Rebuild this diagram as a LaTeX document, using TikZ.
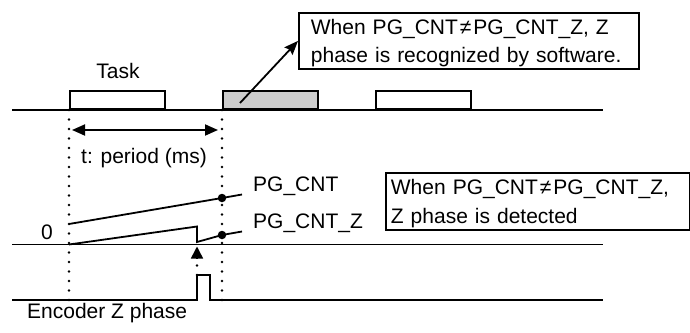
\documentclass[tikz,border=0pt]{standalone}
\usepackage{fontspec}
\setmainfont{Liberation Sans}
\usetikzlibrary{arrows.meta}
\begin{document}
\begin{tikzpicture}[x=1pt,y=-1pt,
  every node/.style={font=\fontsize{21}{28.5}\selectfont, inner sep=0pt},
  sig/.style={line width=1.8pt},
  dotline/.style={line width=2.8pt, line cap=round, dash pattern=on 0pt off 9.5pt},
  taskbox/.style={draw, line width=1.8pt, minimum width=95pt, minimum height=18pt, anchor=south west},
  callout/.style={draw, line width=1.8pt, anchor=north west, align=left, inner ysep=0pt},
  dbl/.style={line width=1.8pt, {Triangle[length=13pt,width=11pt]}-{Triangle[length=13pt,width=11pt]}},
  pointer/.style={line width=1.8pt, -{Stealth[length=14pt,width=11pt,inset=2pt]}},
  dotc/.style={circle, fill=black, minimum size=8.5pt},
]
\useasboundingbox (0,0) rectangle (690,332);

% Task row
\node[taskbox, fill=white] (t1) at (69,110) {};
\node[taskbox, fill=gray!40] (t2) at (222,110) {};
\node[taskbox, fill=white] (t3) at (375,110) {};
\coordinate (r1s) at (12,110);
\coordinate (r1e) at (603,110);
\draw[sig] (r1s) -- (r1e);
\node (task) at (118,71) {Task};

% dotted period markers
\coordinate (b1) at (69,300);
\coordinate (b2) at (222,300);
\draw[dotline] (t1.south west) -- (b1);
\draw[dotline] (t2.south west) -- (b2);

% period arrow
\coordinate (p1) at (72,130);
\coordinate (p2) at (218,130);
\draw[dbl] (p1) -- (p2);
\node[anchor=base] (per) at (144,163) {t: period (ms)};

% callout 1
\node[callout, minimum height=56pt, text width=316pt, inner xsep=12pt] (c1) at (298,12)
  {\rule{0pt}{20pt}\mbox{When PG\_CNT\hspace{2pt}≠\hspace{2pt}PG\_CNT\_Z, Z}\\\mbox{phase is recognized by software.}};
\coordinate (g) at (240,103);
\draw[pointer] (g) -- (c1.west);

% counter row
\coordinate (r2s) at (12,244.5);
\coordinate (r2e) at (603,244.5);
\draw[sig] (r2s) -- (r2e);
\node[anchor=base] (zero) at (47,239) {0};

\node[dotc] (d1) at (222,198) {};
\node[dotc] (d2) at (222,235) {};
\coordinate (c0) at (69,224);
\coordinate (c1e) at (242,194.5);
\draw[sig] (c0) -- (d1.center) -- (c1e);
\coordinate (z0) at (69,244.5);
\coordinate (z1) at (197,226.5);
\coordinate (z2) at (197,242);
\coordinate (z3) at (242,231.5);
\draw[sig] (z0) -- (z1) -- (z2) -- (d2.center) -- (z3);
\node[anchor=base west] (lcnt) at (253,191) {PG\_CNT};
\node[anchor=base west] (lcntz) at (253,228) {PG\_CNT\_Z};

% callout 2
\node[callout, minimum height=57pt, text width=293.5pt, inner xsep=5pt] (c2) at (385,172)
  {\rule{0pt}{20pt}\mbox{When PG\_CNT\hspace{2pt}≠\hspace{2pt}PG\_CNT\_Z,}\\\mbox{Z phase is detected}};

% encoder Z phase
\coordinate (e0) at (12,300);
\coordinate (ea) at (197,300);
\coordinate (eb) at (197,275);
\coordinate (ec) at (210,275);
\coordinate (ed) at (210,300);
\coordinate (e1) at (603,300);
\draw[sig] (e0) -- (ea) -- (eb) -- (ec) -- (ed) -- (e1);
\coordinate (zt) at (197,246.5);
\draw[dotline] (eb) -- (197,259);
\draw[line width=1.5pt, -{Triangle[length=12pt,width=12pt]}] (197,258) -- (zt);
\node[anchor=base west] (enc) at (27,318) {Encoder Z phase};
\end{tikzpicture}
\end{document}
